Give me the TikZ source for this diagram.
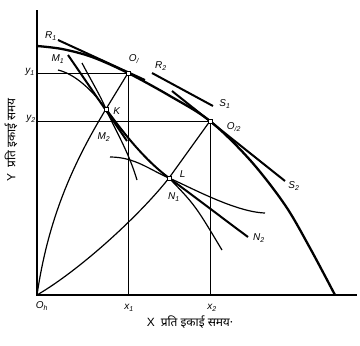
\documentclass[tikz,border=0pt]{standalone}
\usepackage{fontspec}
\newfontfamily\hindi[Script=Devanagari]{Noto Sans}
\newfontfamily\labfont{Liberation Sans}
\newcommand{\lb}[2]{{\labfont\itshape #1\textsubscript{#2}}}
\begin{document}
\begin{tikzpicture}[x=1bp,y=-1bp]
\tikzset{
  axis/.style={line width=1.6bp},
  guide/.style={line width=0.8bp},
  midline/.style={line width=1.2bp},
  heavy/.style={line width=2bp},
  ppf/.style={line width=2.3bp},
  mk/.style={draw, fill=white, rectangle, line width=0.6bp, minimum size=4bp, inner sep=0pt},
  lab/.style={font=\fontsize{10}{12}\selectfont, inner sep=0.5bp},
  hlab/.style={font=\hindi\fontsize{12}{14}\selectfont, inner sep=0.5bp}
}
\path[use as bounding box] (0,0) rectangle (360,346);
% key coordinates
\coordinate (Oh) at (37,295);
\coordinate (Ytop) at (37,10);
\coordinate (Xend) at (357,295);
\coordinate (Y1) at (37,73);
\coordinate (Y2) at (37,121);
\coordinate (X1) at (128,295);
\coordinate (X2) at (210,295);
\coordinate (O1) at (128,73);
\coordinate (O2) at (210,121);
\coordinate (K) at (106,109);
\coordinate (L) at (169,178);
% axes
\draw[axis] (Ytop) -- (Oh) -- (Xend);
% guides
\draw[guide] (Y1) -- (O1) -- (X1);
\draw[guide] (Y2) -- (O2) -- (X2);
% production possibility curve
\draw[ppf] plot[smooth, tension=0.55] coordinates {(37,46) (62,49) (92,57) (128,73) (170,96) (210,121) (250,160) (285,205) (310,248) (335,295)};
% price lines
\coordinate (R1a) at (58,40);
\coordinate (R1b) at (145,80);
\coordinate (R2a) at (152,73);
\coordinate (S1b) at (213,106);
\coordinate (Sa) at (172,91);
\coordinate (S2b) at (285,181);
\draw[heavy] (R1a) -- (R1b);
\draw[heavy] (R2a) -- (S1b);
\draw[heavy] (Sa) -- (S2b);
% contract-type curves from origin
\draw[midline] (Oh) .. controls (48,220) and (72,165) .. (K);
\draw[midline] (K) -- (O1);
\draw[midline] (Oh) .. controls (80,270) and (140,215) .. (L);
\draw[midline] (L) -- (O2);
% curves at K
\coordinate (M1a) at (68,55);
\coordinate (M2b) at (127,141);
\draw[heavy] (M1a) -- (M2b);
\coordinate (Ba) at (82,63);
\coordinate (Bb) at (137,180);
\draw[midline] (Ba) .. controls (92,82) and (100,95) .. (K) .. controls (115,130) and (128,150) .. (Bb);
\coordinate (Ca) at (58,70);
\draw[midline] (Ca) .. controls (75,74) and (92,90) .. (K);
% curves at L
\coordinate (N2b) at (248,237);
\draw[heavy] (K) .. controls (125,135) and (145,160) .. (L) .. controls (195,197) and (225,220) .. (N2b);
\coordinate (Aa) at (110,157);
\coordinate (Ab) at (265,213);
\draw[midline] (Aa) .. controls (135,157) and (150,170) .. (L) .. controls (190,187) and (235,212) .. (Ab);
\coordinate (Db) at (222,250);
\draw[midline] (L) .. controls (195,205) .. (Db);
% markers
\node[mk] (mO1) at (O1) {};
\node[mk] (mO2) at (O2) {};
\node[mk] (mK) at (K) {};
\node[mk] (mL) at (L) {};
% labels
\node[lab] (lR1) at (51,36) {\lb{R}{1}};
\node[lab] (lM1) at (58,59) {\lb{M}{1}};
\node[lab] (lO1) at (134,59) {\lb{O}{/}};
\node[lab] (lR2) at (161,66) {\lb{R}{2}};
\node[lab] (lS1) at (225,104) {\lb{S}{1}};
\node[lab] (lO2) at (234,127) {\lb{O}{/2}};
\node[lab] (lS2) at (294,186) {\lb{S}{2}};
\node[lab] (lK) at (117,112) {\lb{K}{}};
\node[lab] (lM2) at (104,137) {\lb{M}{2}};
\node[lab] (lL) at (183,175) {\lb{L}{}};
\node[lab] (lN1) at (174,197) {\lb{N}{1}};
\node[lab] (lN2) at (259,238) {\lb{N}{2}};
\node[lab] (ly1) at (30,72) {\lb{y}{1}};
\node[lab] (ly2) at (31,119) {\lb{y}{2}};
\node[lab] (lOh) at (42,306) {\lb{O}{h}};
\node[lab] (lx1) at (129,308) {\lb{x}{1}};
\node[lab] (lx2) at (212,308) {\lb{x}{2}};
\node[hlab, rotate=90] (ylab) at (11,140) {{\labfont Y}\enspace प्रति इकाई समय};
\node[hlab] (xlab) at (190,322) {{\labfont X}\enspace प्रति इकाई समय·};
\end{tikzpicture}
\end{document}
